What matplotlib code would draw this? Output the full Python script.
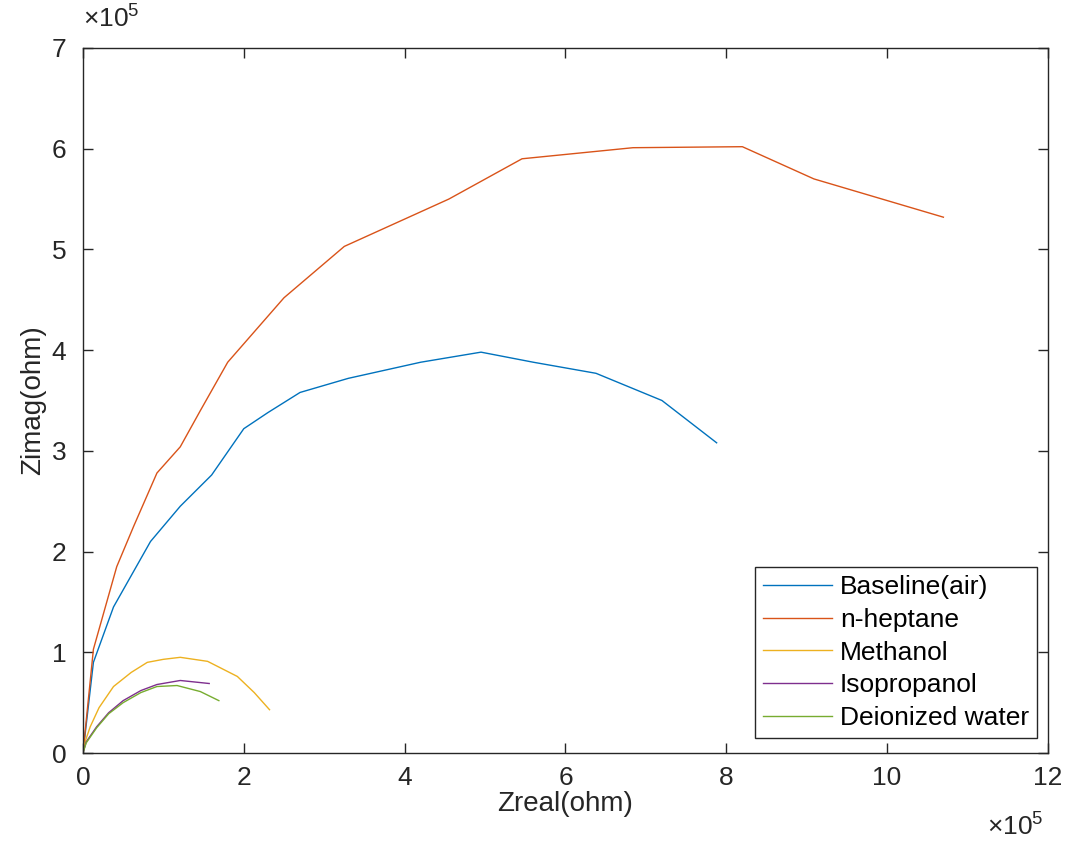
import matplotlib
matplotlib.use("Agg")
import matplotlib.pyplot as plt
from matplotlib.ticker import FuncFormatter

plt.rcParams['font.family'] = ['Liberation Sans', 'DejaVu Sans']
plt.rcParams['mathtext.fontset'] = 'custom'
plt.rcParams['mathtext.rm'] = 'Liberation Sans'

# values, in units of 1e5 ohm
base_x = [0, 0.13, 0.38, 0.84, 1.21, 1.6, 2.0, 2.3, 2.7, 3.3, 4.2, 4.95, 5.6, 6.38, 7.2, 7.88]
base_y = [0, 0.9, 1.45, 2.1, 2.45, 2.76, 3.22, 3.38, 3.58, 3.72, 3.88, 3.98, 3.88, 3.77, 3.5, 3.08]

hept_x = [0, 0.13, 0.42, 0.63, 0.92, 1.21, 1.46, 1.8, 2.5, 3.25, 4.55, 5.46, 6.84, 8.2, 9.09, 10.7]
hept_y = [0, 1.03, 1.85, 2.25, 2.78, 3.04, 3.4, 3.88, 4.52, 5.03, 5.5, 5.9, 6.01, 6.02, 5.7, 5.32]

meth_x = [0, 0.03, 0.09, 0.2, 0.38, 0.6, 0.8, 1.0, 1.21, 1.55, 1.92, 2.13, 2.32]
meth_y = [0, 0.12, 0.26, 0.45, 0.66, 0.8, 0.9, 0.93, 0.95, 0.91, 0.76, 0.6, 0.43]

iso_x = [0, 0.04, 0.17, 0.32, 0.5, 0.72, 0.92, 1.21, 1.57]
iso_y = [0, 0.11, 0.26, 0.4, 0.52, 0.62, 0.68, 0.72, 0.69]

water_x = [0, 0.04, 0.17, 0.32, 0.5, 0.72, 0.92, 1.17, 1.46, 1.69]
water_y = [0, 0.1, 0.25, 0.39, 0.5, 0.6, 0.66, 0.67, 0.61, 0.52]

names = ['Baseline(air)', 'n-heptane', 'Methanol', 'Isopropanol', 'Deionized water']
colors = ['#0072BD', '#D95319', '#EDB120', '#7E2F8E', '#77AC30']

scale = 1e5

fig = plt.figure(figsize=(10.69, 8.42), dpi=100)
ax = fig.add_axes([0.0776, 0.1057, 0.9027, 0.8373])

series = [(base_x, base_y), (hept_x, hept_y), (meth_x, meth_y), (iso_x, iso_y), (water_x, water_y)]
for (xs, ys), n, c in zip(series, names, colors):
    ax.plot([v * scale for v in xs], [v * scale for v in ys], color=c, lw=1.0, label=n)

ax.set_xlim(0, 12e5)
ax.set_ylim(0, 7e5)
ax.set_xticks([i * 2e5 for i in range(7)])
ax.set_yticks([i * 1e5 for i in range(8)])
fmt = FuncFormatter(lambda v, p: '%d' % round(v / scale))
ax.xaxis.set_major_formatter(fmt)
ax.yaxis.set_major_formatter(fmt)

ax.tick_params(direction='in', length=7, width=1, labelsize=19, colors='#262626',
               top=True, right=True)
ax.tick_params(axis='x', pad=9)
ax.tick_params(axis='y', pad=12)
for s in ax.spines.values():
    s.set_color('#262626')
    s.set_linewidth(1.0)

ax.set_xlabel('Zreal(ohm)', fontsize=20, color='#262626', labelpad=1)
ax.set_ylabel('Zimag(ohm)', fontsize=20, color='#262626', labelpad=4)

ax.text(0.0, 1.022, r'$\mathregular{\times10^{5}}$', transform=ax.transAxes,
        fontsize=19, color='#262626', ha='left', va='bottom')
ax.text(0.995, -0.085, r'$\mathregular{\times10^{5}}$', transform=ax.transAxes,
        fontsize=19, color='#262626', ha='right', va='top')

leg = ax.legend(loc='lower right', bbox_to_anchor=(0.9886, 0.0213), borderaxespad=0,
                fontsize=19, frameon=True, fancybox=False, edgecolor='#262626',
                framealpha=1, handlelength=2.6, handletextpad=0.3, borderpad=0.3,
                labelspacing=0.33)
leg.get_frame().set_linewidth(1.0)

fig.savefig('out.png', dpi=100)
